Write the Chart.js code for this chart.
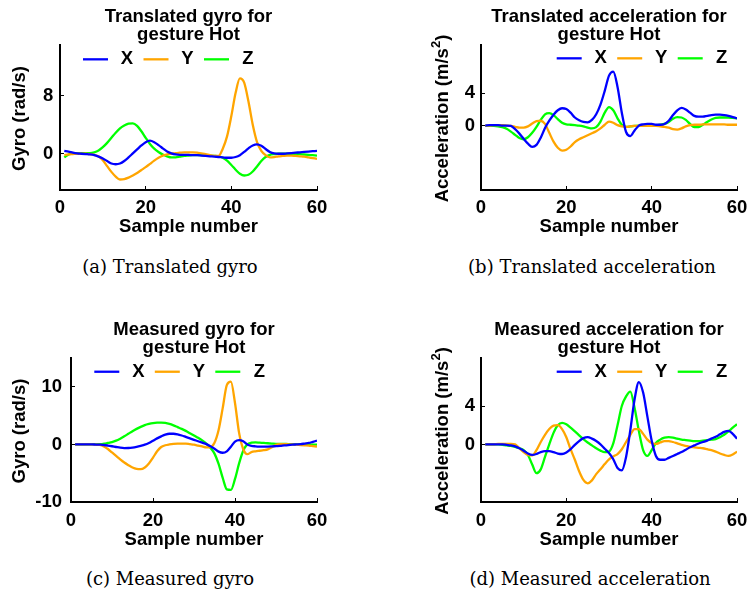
<!DOCTYPE html>
<html>
<head>
<meta charset="utf-8">
<script src="https://cdn.jsdelivr.net/npm/chart.js@4"></script>
<style>
  body { margin: 0; width: 751px; height: 592px; background: #fff; position: relative; overflow: hidden; }
  canvas { position: absolute; }
  .caption {
    position: absolute; width: 300px; text-align: center;
    font: 18px "DejaVu Serif", "Liberation Serif", serif; line-height: 24px; color: #000;
  }
</style>
</head>
<body>
<canvas id="gyroTrans" width="375" height="250" style="left:0;top:0"></canvas>
<canvas id="accTrans" width="376" height="250" style="left:375px;top:0"></canvas>
<canvas id="gyroMeas" width="375" height="250" style="left:0;top:313px"></canvas>
<canvas id="accMeas" width="376" height="250" style="left:375px;top:313px"></canvas>
<div class="caption" style="left:20px;top:255px">(a) Translated gyro</div>
<div class="caption" style="left:442px;top:255px">(b) Translated acceleration</div>
<div class="caption" style="left:20px;top:567px">(c) Measured gyro</div>
<div class="caption" style="left:440px;top:567px">(d) Measured acceleration</div>
<script>
const sampleNumbers = [
  1, 2, 3, 4, 5, 6, 7, 8, 9, 10,
  11, 12, 13, 14, 15, 16, 17, 18, 19, 20,
  21, 22, 23, 24, 25, 26, 27, 28, 29, 30,
  31, 32, 33, 34, 35, 36, 37, 38, 39, 40,
  41, 42, 43, 44, 45, 46, 47, 48, 49, 50,
  51, 52, 53, 54, 55, 56, 57, 58, 59, 60];
const axisNames = ["X", "Y", "Z"];
const seriesColors = ["#0000ff", "#ffa500", "#00ff00"];
const xTicks = [0, 20, 40, 60];

// (a) translated gyro
const gyroTransX = [
  0.4, 0.3, 0.15, 0.05, 0, -0.05, -0.1, -0.2, -0.4, -0.65,
  -1.0, -1.35, -1.45, -1.35, -1.0, -0.5, 0.05, 0.6, 1.15, 1.6,
  1.8, 1.6, 1.2, 0.75, 0.3, 0.05, -0.1, -0.15, -0.15, -0.15,
  -0.2, -0.2, -0.25, -0.3, -0.35, -0.4, -0.45, -0.5, -0.55, -0.55,
  -0.45, -0.2, 0.25, 0.75, 1.15, 1.3, 1.1, 0.65, 0.25, 0.05,
  0, 0, 0.05, 0.1, 0.15, 0.2, 0.25, 0.3, 0.35, 0.4];
const gyroTransY = [
  -0.2, -0.1, -0.05, 0, 0, 0, -0.05, -0.15, -0.35, -0.9,
  -1.7, -2.5, -3.15, -3.55, -3.5, -3.3, -3.0, -2.65, -2.25, -1.85,
  -1.4, -0.95, -0.55, -0.25, -0.1, 0, 0.1, 0.15, 0.2, 0.2,
  0.2, 0.15, 0.05, -0.05, -0.2, -0.3, -0.3, 0.7, 2.4, 5.2,
  8.4, 10.4, 9.8, 7.2, 4.0, 1.6, 0.4, -0.2, -0.5, -0.45,
  -0.35, -0.3, -0.25, -0.25, -0.3, -0.35, -0.4, -0.5, -0.6, -0.7];
const gyroTransZ = [
  -0.5, -0.1, 0.05, 0.1, 0.1, 0.1, 0.1, 0.2, 0.45, 0.9,
  1.5, 2.2, 2.9, 3.5, 3.9, 4.15, 4.2, 3.85, 3.1, 2.2,
  1.35, 0.7, 0.25, -0.1, -0.35, -0.5, -0.5, -0.4, -0.3, -0.25,
  -0.2, -0.2, -0.2, -0.25, -0.25, -0.3, -0.35, -0.55, -0.95, -1.55,
  -2.2, -2.75, -3.0, -2.9, -2.45, -1.75, -1.0, -0.45, -0.15, -0.05,
  0, 0, 0, 0, 0, -0.05, -0.1, -0.15, -0.2, -0.25];
const gyroTransTicks = [0, 8];

// (b) translated acceleration
const accTransX = [
  0, 0.05, 0.05, 0.05, 0, 0, -0.05, -0.45, -1.0, -1.65,
  -2.25, -2.65, -2.4, -1.5, -0.3, 0.6, 1.35, 1.9, 2.15, 2.05,
  1.6, 1.0, 0.65, 0.45, 0.4, 0.7, 1.4, 2.6, 4.3, 6.2,
  6.7, 4.8, 1.6, -0.8, -1.3, -0.6, 0, 0.15, 0.2, 0.2,
  0.1, 0.1, 0.2, 0.6, 1.3, 1.9, 2.2, 2.0, 1.6, 1.2,
  1.1, 1.1, 1.2, 1.3, 1.35, 1.35, 1.3, 1.2, 1.05, 0.9];
const accTransY = [
  0, 0, 0.05, 0.05, 0.05, 0, -0.05, -0.15, -0.25, -0.25,
  -0.1, 0.25, 0.55, 0.6, 0.2, -0.9, -2.0, -2.75, -3.1, -3.0,
  -2.6, -2.05, -1.7, -1.45, -1.2, -0.95, -0.7, -0.35, 0.1, 0.5,
  0.35, 0.05, -0.1, -0.15, -0.1, -0.05, -0.05, -0.05, -0.05, -0.05,
  -0.05, -0.1, -0.15, -0.25, -0.45, -0.5, -0.35, -0.1, 0.05, 0.1,
  0.1, 0.15, 0.15, 0.15, 0.15, 0.15, 0.15, 0.1, 0.1, 0.1];
const accTransZ = [
  -0.05, -0.05, -0.05, -0.1, -0.2, -0.4, -0.75, -1.15, -1.55, -1.7,
  -1.45, -0.9, -0.15, 0.7, 1.4, 1.55, 1.3, 0.8, 0.35, 0.15,
  0.1, 0.05, 0, -0.1, -0.25, -0.35, -0.2, 0.5, 1.6, 2.3,
  1.9, 0.9, 0.1, -0.15, -0.1, -0.05, 0, 0, 0, 0,
  0.05, 0.1, 0.2, 0.45, 0.85, 1.05, 1.0, 0.7, 0.2, -0.2,
  -0.2, 0.1, 0.45, 0.75, 0.95, 1.0, 1.0, 1.0, 0.95, 0.9];
const accTransTicks = [0, 4];

// (c) measured gyro
const gyroMeasX = [
  0, 0, 0, 0, 0, -0.02, -0.05, -0.1, -0.2, -0.32,
  -0.45, -0.57, -0.63, -0.62, -0.55, -0.42, -0.25, -0.05, 0.25, 0.65,
  1.05, 1.4, 1.7, 1.85, 1.85, 1.75, 1.55, 1.3, 1.05, 0.8,
  0.55, 0.3, 0.05, -0.3, -0.75, -1.25, -1.45, -1.2, -0.4, 0.5,
  0.75, 0.55, 0.0, -0.25, -0.33, -0.37, -0.38, -0.38, -0.35, -0.3,
  -0.25, -0.18, -0.12, -0.05, 0, 0.05, 0.15, 0.25, 0.45, 0.65];
const gyroMeasY = [
  0, 0, 0, 0, 0, -0.05, -0.1, -0.35, -0.8, -1.4,
  -2.0, -2.6, -3.15, -3.6, -4.0, -4.25, -4.3, -4.0, -3.3, -2.3,
  -1.2, -0.45, -0.15, 0, 0.1, 0.15, 0.15, 0.15, 0.05, -0.05,
  -0.2, -0.35, -0.5, -0.45, 0.3, 2.5, 6.3, 10.3, 10.9, 7.2,
  2.0, -0.8, -1.7, -1.35, -1.2, -1.1, -1.0, -0.85, -0.5, -0.05,
  0.05, 0.05, 0, 0, -0.05, -0.1, -0.15, -0.2, -0.3, -0.4];
const gyroMeasZ = [
  0, 0, 0, 0, 0.02, 0.05, 0.05, 0.12, 0.25, 0.4,
  0.65, 1.0, 1.4, 1.85, 2.3, 2.7, 3.05, 3.35, 3.55, 3.7,
  3.78, 3.8, 3.72, 3.55, 3.3, 3.0, 2.7, 2.35, 1.95, 1.55,
  1.15, 0.7, 0.15, -0.6, -1.6, -3.4, -5.8, -7.8, -7.9, -6.0,
  -3.3, -1.1, 0, 0.3, 0.35, 0.3, 0.25, 0.2, 0.15, 0.1,
  0.1, 0.1, 0.05, 0.05, 0.05, 0, 0, 0, -0.05, -0.05];
const gyroMeasTicks = [-10, 0, 10];

// (d) measured acceleration
const accMeasX = [
  0, 0, 0, 0, 0, -0.05, -0.1, -0.2, -0.4, -0.65,
  -0.95, -1.1, -1.0, -0.8, -0.7, -0.7, -0.8, -0.95, -1.0, -0.85,
  -0.5, -0.05, 0.35, 0.65, 0.75, 0.6, 0.35, 0.0, -0.45, -0.9,
  -1.55, -2.45, -2.7, -1.3, 1.5, 4.7, 6.5, 5.4, 2.9, 0.4,
  -1.2, -1.6, -1.6, -1.4, -1.2, -1.0, -0.8, -0.55, -0.3, -0.1,
  0.1, 0.25, 0.4, 0.6, 0.8, 1.05, 1.3, 1.4, 1.1, 0.6];
const accMeasY = [
  0, 0, 0, 0.05, 0.05, 0.05, 0.05, 0, -0.4, -0.8,
  -1.1, -1.15, -0.6, 0.25, 1.0, 1.6, 1.95, 2.0, 1.6, 0.75,
  -0.5, -1.6, -2.8, -3.7, -4.05, -3.75, -3.1, -2.6, -2.05, -1.55,
  -1.25, -1.0, -0.5, 0.25, 1.0, 1.6, 1.6, 1.1, 0.5, 0.15,
  0.05, 0.2, 0.35, 0.35, 0.25, 0.1, -0.05, -0.15, -0.25, -0.3,
  -0.35, -0.4, -0.5, -0.6, -0.75, -0.95, -1.1, -1.2, -1.05, -0.75];
const accMeasZ = [
  0, 0, 0, 0, -0.05, -0.1, -0.15, -0.25, -0.4, -0.6,
  -1.1, -2.1, -3.0, -2.6, -1.3, 0.0, 1.2, 2.0, 2.25, 2.1,
  1.75, 1.35, 0.95, 0.55, 0.2, -0.1, -0.4, -0.65, -0.8, -0.75,
  0.1, 2.0, 4.0, 5.0, 5.5, 3.8, 1.4, -0.6, -1.2, -0.6,
  0.15, 0.5, 0.7, 0.75, 0.7, 0.6, 0.5, 0.45, 0.4, 0.35,
  0.35, 0.4, 0.45, 0.5, 0.55, 0.75, 1.0, 1.35, 1.75, 2.1];
const accMeasTicks = [0, 4];

const FONT = '"Liberation Sans", Arial, Helvetica, sans-serif';
const LINE_WIDTH = 2.3;
Chart.defaults.font.family = FONT;
Chart.defaults.font.size = 18.5;
Chart.defaults.font.weight = "bold";
Chart.defaults.color = "#000";

// key drawn inside the plot: short line sample followed by the series name
const insideKey = {
  id: "insideKey",
  afterDatasetsDraw(chart, args, opts) {
    const { ctx, chartArea } = chart;
    ctx.save();
    ctx.font = "bold 18.5px " + FONT;
    ctx.textAlign = "center";
    ctx.textBaseline = "middle";
    chart.data.datasets.forEach((ds, i) => {
      const x = chartArea.left + opts.left + i * opts.pitch;
      const y = chartArea.top + opts.top;
      ctx.strokeStyle = ds.borderColor;
      ctx.lineWidth = LINE_WIDTH;
      ctx.beginPath();
      ctx.moveTo(x, y);
      ctx.lineTo(x + 25, y);
      ctx.stroke();
      ctx.fillStyle = "#000";
      ctx.fillText(ds.label, x + 44, y);
    });
    ctx.restore();
  },
};

// rotated y axis label, with optional superscript part
const sideLabel = {
  id: "sideLabel",
  afterDraw(chart, args, opts) {
    const { ctx, chartArea } = chart;
    const big = "bold 18.5px " + FONT;
    const small = "bold 13px " + FONT;
    ctx.save();
    ctx.translate(opts.x, (chartArea.top + chartArea.bottom) / 2 + 1);
    ctx.rotate(-Math.PI / 2);
    ctx.textAlign = "left";
    ctx.textBaseline = "middle";
    ctx.fillStyle = "#000";
    const widths = opts.parts.map((p) => {
      ctx.font = p.sup ? small : big;
      return ctx.measureText(p.text).width;
    });
    let x = -widths.reduce((a, b) => a + b, 0) / 2;
    opts.parts.forEach((p, i) => {
      ctx.font = p.sup ? small : big;
      ctx.fillText(p.text, x, p.sup ? -7 : 0);
      x += widths[i];
    });
    ctx.restore();
  },
};

function drawPanel(id, cfg) {
  const datasets = cfg.series.map((ys, i) => ({
    label: axisNames[i],
    data: sampleNumbers.map((x, j) => ({ x: x, y: ys[j] })),
    borderColor: seriesColors[i],
    backgroundColor: seriesColors[i],
    borderWidth: LINE_WIDTH,
    pointRadius: 0,
    cubicInterpolationMode: "monotone",
  }));

  return new Chart(document.getElementById(id), {
    type: "line",
    data: { datasets },
    options: {
      responsive: false,
      animation: false,
      events: [],
      layout: { padding: { left: 0, right: cfg.padRight, top: 0, bottom: 0 } },
      plugins: {
        legend: { display: false },
        tooltip: { enabled: false },
        title: {
          display: true,
          text: cfg.title,
          fullSize: false,
          color: "#000",
          font: { size: 18.5, weight: "bold", lineHeight: 0.99 },
          padding: { top: 7.5, bottom: 0.9 },
        },
        insideKey: { left: cfg.keyLeft, top: cfg.keyTop, pitch: 60.5 },
        sideLabel: { x: cfg.yLabelX, parts: cfg.yLabel },
      },
      scales: {
        x: {
          type: "linear",
          min: 0,
          max: 60,
          afterBuildTicks: (axis) => {
            axis.ticks = xTicks.map((v) => ({ value: v }));
          },
          afterFit: (scale) => {
            scale.height = cfg.xAxisHeight;
            scale.paddingLeft = 0;
            scale.paddingRight = 0;
          },
          border: { display: true, color: "#000", width: 2 },
          grid: { drawOnChartArea: false, drawTicks: true, tickLength: -4, color: "#000", lineWidth: 1 },
          ticks: { padding: cfg.xTickPad, maxRotation: 0, autoSkip: false },
          title: { display: true, text: "Sample number", padding: { top: 0, bottom: 12 } },
        },
        y: {
          type: "linear",
          min: cfg.yMin,
          max: cfg.yMax,
          afterBuildTicks: (axis) => {
            axis.ticks = cfg.yTicks.map((v) => ({ value: v }));
          },
          afterFit: (scale) => {
            scale.width = cfg.plotLeft;
            scale.paddingTop = 0;
            scale.paddingBottom = 0;
          },
          border: { display: true, color: "#000", width: 2 },
          grid: { drawOnChartArea: false, drawTicks: true, tickLength: -4, color: "#000", lineWidth: 1 },
          ticks: { padding: cfg.yTickPad, autoSkip: false },
        },
      },
    },
    plugins: [insideKey, sideLabel],
  });
}

const gyroLabel = [{ text: "Gyro (rad/s)" }];
const accLabel = [{ text: "Acceleration (m/s" }, { text: "2", sup: true }, { text: ")" }];

drawPanel("gyroTrans", {
  title: ["Translated gyro for", "gesture Hot"],
  series: [gyroTransX, gyroTransY, gyroTransZ],
  yMin: -5, yMax: 15, yTicks: gyroTransTicks,
  plotLeft: 60, padRight: 58, xAxisHeight: 60,
  xTickPad: 11, yTickPad: 10.7,
  yLabel: gyroLabel, yLabelX: 20,
  keyLeft: 23, keyTop: 14.3,
});

drawPanel("accTrans", {
  title: ["Translated acceleration for", "gesture Hot"],
  series: [accTransX, accTransY, accTransZ],
  yMin: -8, yMax: 10, yTicks: accTransTicks,
  plotLeft: 106, padRight: 14, xAxisHeight: 60,
  xTickPad: 11, yTickPad: 10,
  yLabel: accLabel, yLabelX: 68,
  keyLeft: 75.7, keyTop: 13.3,
});

drawPanel("gyroMeas", {
  title: ["Measured gyro for", "gesture Hot"],
  series: [gyroMeasX, gyroMeasY, gyroMeasZ],
  yMin: -10, yMax: 15, yTicks: gyroMeasTicks,
  plotLeft: 71, padRight: 58, xAxisHeight: 61,
  xTickPad: 12, yTickPad: 13,
  yLabel: gyroLabel, yLabelX: 20,
  keyLeft: 23.3, keyTop: 13.7,
});

drawPanel("accMeas", {
  title: ["Measured acceleration for", "gesture Hot"],
  series: [accMeasX, accMeasY, accMeasZ],
  yMin: -6, yMax: 9, yTicks: accMeasTicks,
  plotLeft: 106, padRight: 14, xAxisHeight: 61,
  xTickPad: 12, yTickPad: 10,
  yLabel: accLabel, yLabelX: 68,
  keyLeft: 75.7, keyTop: 13.7,
});
</script>
</body>
</html>
